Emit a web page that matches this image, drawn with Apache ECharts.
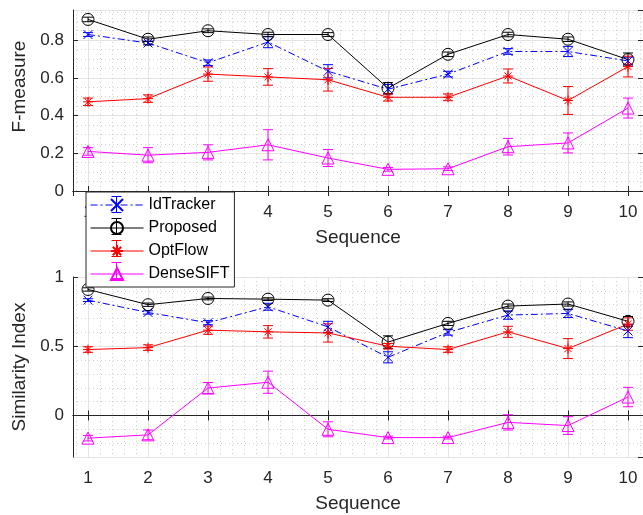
<!DOCTYPE html>
<html>
<head>
<meta charset="utf-8">
<script src="https://cdn.jsdelivr.net/npm/echarts@6/dist/echarts.min.js"></script>
<style>
html,body{margin:0;padding:0;background:#fff;}
#chart{width:643px;height:515px;}
</style>
</head>
<body>
<div id="chart"></div>
<script>
// ---- data ----
const sequences = [1, 2, 3, 4, 5, 6, 7, 8, 9, 10];
const seriesNames = ['IdTracker', 'Proposed', 'OptFlow', 'DenseSIFT'];

// F-measure (top)
const fIdTracker    = [0.83, 0.785, 0.68, 0.79, 0.635, 0.54, 0.62, 0.74, 0.74, 0.69];
const fIdTrackerErr = [0.01, 0.01, 0.015, 0.03, 0.035, 0.025, 0.015, 0.015, 0.027, 0.02];
const fProposed     = [0.91, 0.805, 0.85, 0.83, 0.83, 0.545, 0.725, 0.83, 0.805, 0.697];
const fProposedErr  = [0.012, 0.012, 0.01, 0.012, 0.01, 0.03, 0.012, 0.012, 0.012, 0.035];
const fOptFlow      = [0.473, 0.49, 0.62, 0.605, 0.59, 0.497, 0.497, 0.61, 0.48, 0.66];
const fOptFlowErr   = [0.02, 0.02, 0.038, 0.044, 0.06, 0.02, 0.018, 0.037, 0.074, 0.055];
const fDenseSIFT    = [0.21, 0.19, 0.205, 0.245, 0.175, 0.115, 0.118, 0.235, 0.255, 0.44];
const fDenseSIFTErr = [0.02, 0.04, 0.04, 0.08, 0.045, 0.01, 0.01, 0.044, 0.053, 0.053];

// Similarity Index (bottom)
const sIdTracker    = [0.833, 0.744, 0.67, 0.785, 0.64, 0.42, 0.60, 0.725, 0.737, 0.61];
const sIdTrackerErr = [0.01, 0.012, 0.015, 0.025, 0.04, 0.04, 0.02, 0.03, 0.03, 0.048];
const sProposed     = [0.91, 0.80, 0.845, 0.84, 0.833, 0.53, 0.665, 0.79, 0.805, 0.68];
const sProposedErr  = [0.012, 0.012, 0.01, 0.01, 0.01, 0.045, 0.015, 0.015, 0.015, 0.035];
const sOptFlow      = [0.476, 0.49, 0.616, 0.604, 0.596, 0.50, 0.476, 0.604, 0.483, 0.66];
const sOptFlowErr   = [0.02, 0.02, 0.03, 0.045, 0.066, 0.02, 0.02, 0.04, 0.072, 0.045];
const sDenseSIFT    = [-0.164, -0.14, 0.198, 0.24, -0.10, -0.16, -0.16, -0.05, -0.073, 0.133];
const sDenseSIFTErr = [0.02, 0.035, 0.04, 0.08, 0.054, 0.01, 0.01, 0.055, 0.064, 0.07];

// ---- styles ----
const FONT = '"Liberation Sans", Arial, Helvetica, sans-serif';
const AXC = '#262626';
const styles = {
  IdTracker: { color: '#0000ff', symbol: 'path://M0,0L10,10M0,10L10,0', size: 9, type: [7, 3, 2, 3] },
  Proposed:  { color: '#000000', symbol: 'circle', size: 12, type: 'solid' },
  OptFlow:   { color: '#ff0000', symbol: 'path://M0,5L10,5M5,0L5,10M1.5,1.5L8.5,8.5M1.5,8.5L8.5,1.5', size: 10, type: 'solid' },
  DenseSIFT: { color: '#ff00ff', symbol: 'triangle', size: 12, type: 'solid' }
};

const topSets = [
  ['IdTracker', fIdTracker, fIdTrackerErr],
  ['Proposed', fProposed, fProposedErr],
  ['OptFlow', fOptFlow, fOptFlowErr],
  ['DenseSIFT', fDenseSIFT, fDenseSIFTErr]
];
const botSets = [
  ['IdTracker', sIdTracker, sIdTrackerErr],
  ['Proposed', sProposed, sProposedErr],
  ['OptFlow', sOptFlow, sOptFlowErr],
  ['DenseSIFT', sDenseSIFT, sDenseSIFTErr]
];

function errSeries(name, vals, errs, xi, yi) {
  const c = styles[name].color;
  return {
    type: 'custom', name: name + ' err', xAxisIndex: xi, yAxisIndex: yi, z: 2,
    silent: true,
    data: sequences.map((x, i) => [x, vals[i] - errs[i], vals[i] + errs[i]]),
    encode: { x: 0, y: [1, 2] },
    renderItem: function (params, api) {
      const x = api.value(0);
      const p1 = api.coord([x, api.value(2)]);
      const p2 = api.coord([x, api.value(1)]);
      const hw = 5;
      const st = { stroke: c, lineWidth: 1 };
      return {
        type: 'group', children: [
          { type: 'line', shape: { x1: p1[0], y1: p1[1], x2: p2[0], y2: p2[1] }, style: st },
          { type: 'line', shape: { x1: p1[0] - hw, y1: p1[1], x2: p1[0] + hw, y2: p1[1] }, style: st },
          { type: 'line', shape: { x1: p2[0] - hw, y1: p2[1], x2: p2[0] + hw, y2: p2[1] }, style: st }
        ]
      };
    }
  };
}
function lineSeries(name, vals, xi, yi) {
  const s = styles[name];
  return {
    type: 'line', name: name, xAxisIndex: xi, yAxisIndex: yi, z: 3,
    data: sequences.map((x, i) => [x, vals[i]]),
    symbol: s.symbol, symbolSize: s.size, showSymbol: true,
    lineStyle: { color: s.color, width: 1, type: s.type },
    itemStyle: { color: 'rgba(0,0,0,0)', borderColor: s.color, borderWidth: 1 },
    emphasis: { disabled: true }
  };
}

const series = [];
[[topSets, 0], [botSets, 1]].forEach(([sets, g]) => {
  sets.forEach(([name, vals, errs]) => {
    series.push(errSeries(name, vals, errs, g * 2, g * 2));
    series.push(lineSeries(name, vals, g * 2, g * 2));
  });
});

const MAJOR = '#e3e3e3';
const MINOR = { color: '#cfcfcf', width: 1, type: [1, 3] };

function xAx(grid, pos, main) {
  return {
    type: 'value', gridIndex: grid, position: pos, min: 0.75, max: 10.25, splitNumber: 10,
    name: main ? 'Sequence' : '', nameLocation: 'middle', nameGap: 37,
    nameTextStyle: { fontFamily: FONT, fontSize: 19, color: AXC },
    axisLine: { show: true, lineStyle: { color: AXC, width: 1 } },
    axisTick: { show: true, inside: true, length: 5, lineStyle: { color: AXC } },
    axisLabel: { show: main, fontFamily: FONT, fontSize: 17, color: AXC, margin: 13, showMinLabel: false, showMaxLabel: false },
    splitLine: { show: main, lineStyle: { color: MAJOR, width: 1 } },
    minorTick: { show: false, splitNumber: 5 },
    minorSplitLine: { show: main, lineStyle: MINOR }
  };
}
function yAx(grid, pos, main, cfg) {
  return Object.assign({
    type: 'value', gridIndex: grid, position: pos,
    nameLocation: 'middle', nameGap: 41,
    axisLine: { show: true, lineStyle: { color: AXC, width: 1 } },
    axisTick: { show: true, inside: true, length: 5, lineStyle: { color: AXC } },
    axisLabel: { show: main, fontFamily: FONT, fontSize: 17, color: AXC, margin: 9 },
    splitLine: { show: main, lineStyle: { color: MAJOR, width: 1 } },
    minorTick: { show: false, splitNumber: cfg.minorSplit },
    minorSplitLine: { show: main, lineStyle: MINOR }
  }, cfg.extra);
}

const topY = { min: 0, max: 0.96, splitNumber: 5 };
const botY = { min: -0.3, max: 1, splitNumber: 3 };

const yAxes = [
  yAx(0, 'left', true, { minorSplit: 4, extra: Object.assign({}, topY, {
    name: 'F-measure',
    nameTextStyle: { fontFamily: FONT, fontSize: 19, color: AXC, padding: [0, 0, 0, 28] },
    axisLabel: { show: true, fontFamily: FONT, fontSize: 17, color: AXC, margin: 9, showMaxLabel: false }
  }) }),
  yAx(0, 'right', false, { minorSplit: 4, extra: Object.assign({}, topY) }),
  yAx(1, 'left', true, { minorSplit: 5, extra: Object.assign({}, botY, {
    name: 'Similarity Index',
    nameTextStyle: { fontFamily: FONT, fontSize: 19, color: AXC },
    axisLabel: { show: true, fontFamily: FONT, fontSize: 17, color: AXC, margin: 9, showMinLabel: false }
  }) }),
  yAx(1, 'right', false, { minorSplit: 5, extra: Object.assign({}, botY) })
];

// legend error-bar glyphs (decoration of legend icons)
const legLeft = 86, legTop = 192, legPadTop = 5, itemH = 15, itemGap = 7;
const legIconCx = legLeft + 4 + 26.5;
const legendGlyphs = [];
seriesNames.forEach((n, i) => {
  const cy = legTop + legPadTop + itemH / 2 + i * (itemH + itemGap);
  const st = { stroke: styles[n].color, lineWidth: 1 };
  const segs = [
    [legIconCx, cy - 8, legIconCx, cy + 8],
    [legIconCx - 5, cy - 8, legIconCx + 5, cy - 8],
    [legIconCx - 5, cy + 8, legIconCx + 5, cy + 8]
  ];
  segs.forEach(s => legendGlyphs.push({
    type: 'line', z: 300, zlevel: 0, silent: true,
    shape: { x1: s[0], y1: s[1], x2: s[2], y2: s[3] }, style: st
  }));
});

const option = {
  animation: false,
  backgroundColor: '#ffffff',
  grid: [
    { left: 73, top: 10, width: 574, height: 181, show: true, backgroundColor: '#fff', borderWidth: 0 },
    { left: 73, top: 277, width: 574, height: 180, show: true, backgroundColor: '#fff', borderWidth: 0 }
  ],
  xAxis: [xAx(0, 'bottom', true), xAx(0, 'top', false), xAx(1, 'bottom', true), xAx(1, 'top', false)],
  yAxis: yAxes,
  legend: {
    data: seriesNames,
    orient: 'vertical', left: legLeft, top: legTop,
    itemWidth: 53, itemHeight: itemH, itemGap: itemGap,
    padding: [legPadTop, 5, 5, 4],
    backgroundColor: '#ffffff', borderColor: AXC, borderWidth: 1, borderRadius: 0,
    textStyle: { fontFamily: FONT, fontSize: 16, color: '#000' },
    lineStyle: { width: 1 },
    selectedMode: false, z: 100
  },
  graphic: { elements: legendGlyphs },
  series: series
};

const chart = echarts.init(document.getElementById('chart'), null, { renderer: 'canvas' });
chart.setOption(option);
</script>
</body>
</html>
